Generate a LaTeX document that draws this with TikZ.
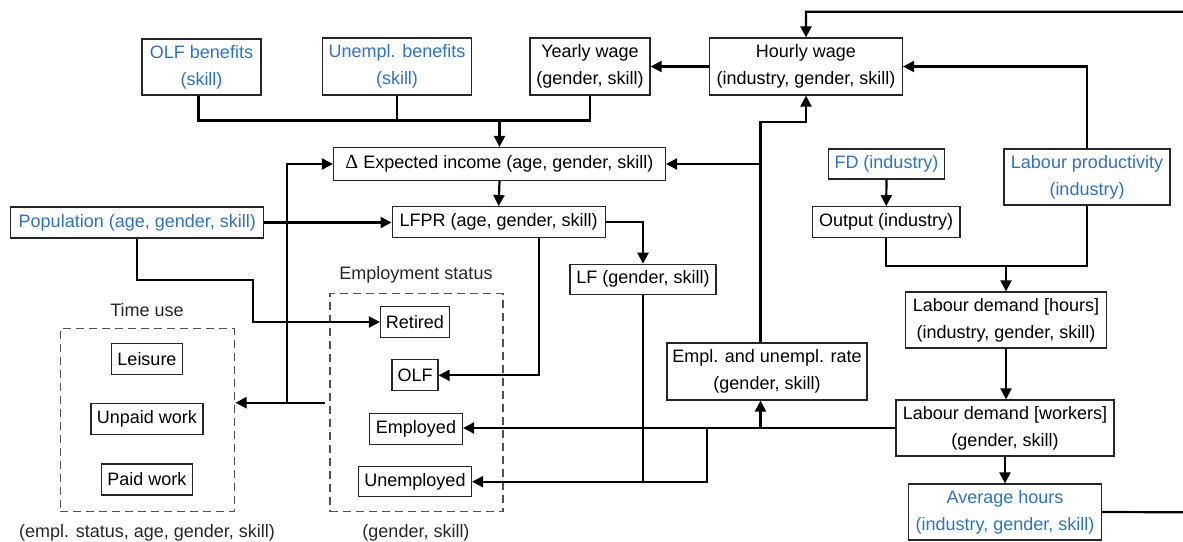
\documentclass[tikz,border=0pt]{standalone}
\usepackage{fontspec}
\setmainfont{Liberation Sans}
\newfontfamily\deltafont{Liberation Serif}
\usetikzlibrary{arrows.meta}
\definecolor{inblue}{RGB}{45,114,196}
\definecolor{dashgray}{RGB}{80,80,80}
\tikzset{
  box/.style={draw=black!85, line width=1.2pt, inner sep=0pt, align=center,
    font=\fontsize{18}{26.7}\selectfont},
  bluebox/.style={box, text=inblue},
  dbox/.style={draw=dashgray, line width=1.2pt, dash pattern=on 8pt off 5pt},
  lbl/.style={inner sep=0pt, font=\fontsize{18}{26.7}\selectfont, text=black!85},
  arr/.style={line width=2.2pt, -{Triangle[length=11pt,width=11pt]}},
  ln/.style={line width=2.2pt},
}
\begin{document}
\begin{tikzpicture}[x=1pt,y=-1pt]
\useasboundingbox (0,0) rectangle (1183,541);
% top inputs
\node[bluebox, minimum width=119pt, minimum height=56pt] (olf) at (201.5,67) {OLF benefits\\(skill)};
\node[bluebox, minimum width=149pt, minimum height=57pt] (unb) at (397,66.5) {Unempl. benefits\\(skill)};
\node[box, minimum width=120pt, minimum height=57pt] (yw) at (590,66.5) {Yearly wage\\(gender, skill)};
\node[box, minimum width=193pt, minimum height=57pt] (hw) at (806,66.5) {Hourly wage\\(industry, gender, skill)};
\node[box, minimum width=332pt, minimum height=33pt] (dei) at (499.5,164) {{\deltafont\fontsize{20}{26.7}\selectfont Δ} Expected income (age, gender, skill)};
\node[box, minimum width=213pt, minimum height=31pt] (lfpr) at (498.6,222.2) {LFPR (age, gender, skill)};
\node[bluebox, minimum width=253pt, minimum height=31pt] (pop) at (137.3,222.5) {Population (age, gender, skill)};
\node[bluebox, minimum width=116.5pt, minimum height=30pt] (fd) at (886.5,164) {FD (industry)};
\node[box, minimum width=147.5pt, minimum height=31pt] (out) at (886.2,222.2) {Output (industry)};
\node[bluebox, minimum width=166pt, minimum height=56pt] (lp) at (1087,177) {Labour productivity\\(industry)};
\node[box, minimum width=146pt, minimum height=30pt] (lf) at (643,279.3) {LF (gender, skill)};
\node[box, minimum width=200.5pt, minimum height=56pt] (ldh) at (1006,320) {Labour demand [hours]\\(industry, gender, skill)};
\node[box, minimum width=218pt, minimum height=56pt] (ldw) at (1005,428) {Labour demand [workers]\\(gender, skill)};
\node[bluebox, minimum width=193pt, minimum height=56pt] (avg) at (1005,512) {Average hours\\(industry, gender, skill)};
\node[box, minimum width=200pt, minimum height=57pt] (emr) at (767,371.5) {Empl. and unempl. rate\\(gender, skill)};
% employment status group
\node[dbox, minimum width=173pt, minimum height=218pt, inner sep=0pt] (esbox) at (416.5,402.5) {};
\node[lbl] (estitle) at (416,275) {Employment status};
\node[lbl] (eslab) at (416,532.7) {(gender, skill)};
\node[box, minimum width=69pt, minimum height=31pt] (ret) at (415,322) {Retired};
\node[box, minimum width=46pt, minimum height=31pt] (olfs) at (415,375.3) {OLF};
\node[box, minimum width=93pt, minimum height=31pt] (emp) at (416,428.7) {Employed};
\node[box, minimum width=113pt, minimum height=30pt] (unemp) at (415,481.7) {Unemployed};
% time use group
\node[dbox, minimum width=174pt, minimum height=183pt, inner sep=0pt] (tubox) at (147.3,420) {};
\node[lbl] (tutitle) at (147,310) {Time use};
\node[lbl] (tulab) at (147,532.7) {(empl. status, age, gender, skill)};
\node[box, minimum width=71pt, minimum height=31pt] (leis) at (147,359) {Leisure};
\node[box, minimum width=112pt, minimum height=31pt] (unp) at (147,419) {Unpaid work};
\node[box, minimum width=91pt, minimum height=31pt] (paid) at (147,479.5) {Paid work};
% helper coordinates
\coordinate (j1) at (499.5,120.5);
\coordinate (p1) at (252.6,280);
\coordinate (esout) at (324.5,402.7);
\coordinate (tuin) at (235.5,402.7);
\coordinate (v1) at (287,402.7);
\coordinate (tr) at (1190,11.7);
\coordinate (br) at (1190,512.3);
\coordinate (j2) at (1006,265.7);
\coordinate (j3) at (760.5,428.3);
\coordinate (j5) at (707.2,428.3);
\coordinate (k1) at (760.5,121.7);
\coordinate (k2) at (760.5,164);
% connectors
\draw[ln] ([xshift=-3pt]olf.south) |- (j1);
\draw[ln] (yw.south) |- (j1);
\draw[ln] (unb.south) -- (unb.south |- j1);
\draw[arr] (j1) -- (dei.north);
\draw[arr] (dei.south) -- (lfpr.north);
\draw[arr] (pop.east) -- (pop.east -| lfpr.west);
\draw[arr] (pop.south) |- (p1) |- (ret.west);
\draw[arr] ([xshift=40.2pt]lfpr.south) |- (olfs.east);
\draw[arr] (lfpr.east) -| (lf.north);
\draw[arr] (esout) -- (tuin);
\draw[arr] (v1) |- (dei.west);
\draw[arr] (hw.west) -- (yw.east);
\draw[arr] (avg.east) -- (br) -- (tr) -| (hw.north);
\draw[arr] (lp.north) |- (hw.east);
\draw[arr] (fd.south) -- (out.north);
\draw[ln] (out.south) |- (j2) -| (lp.south);
\draw[arr] (j2) -- (ldh.north);
\draw[arr] (ldh.south) -- (ldh.south |- ldw.north);
\draw[arr] (ldw.south) -- (ldw.south |- avg.north);
\draw[arr] (ldw.west) -- (ldw.west -| emp.east);
\draw[arr] (j3) -- (j3 |- emr.south);
\draw[arr] (j5) |- (unemp.east);
\draw[ln] (lf.south) -- (lf.south |- unemp.east);
\draw[arr] (k1 |- emr.north) -- (k1) -| (hw.south);
\draw[arr] (k2) -- (dei.east);
\end{tikzpicture}
\end{document}
